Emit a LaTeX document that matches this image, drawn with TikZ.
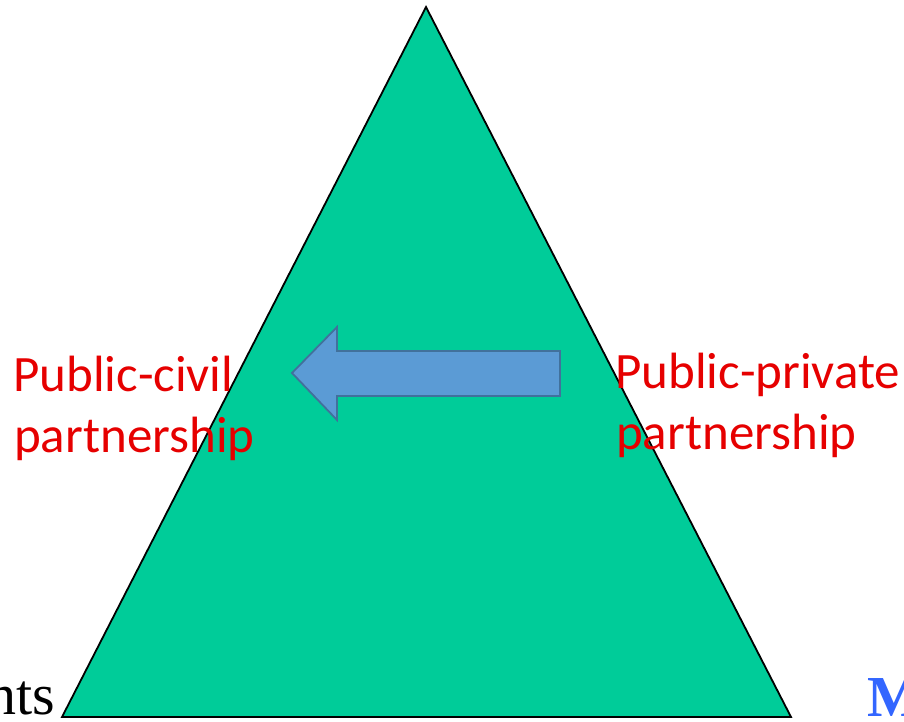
\documentclass[tikz,border=0pt]{standalone}
\usepackage{fontspec}
\setmainfont{Liberation Serif}
\newfontfamily\calfont{Carlito}
\usepackage{xcolor}
\usepackage{tikz}
\usetikzlibrary{calc,positioning}
\definecolor{trigreen}{RGB}{0,204,153}
\definecolor{arrowfill}{RGB}{91,155,213}
\definecolor{arrowline}{RGB}{65,113,156}
\definecolor{lblred}{RGB}{230,0,0}
\definecolor{sideblue}{RGB}{51,102,255}
\tikzset{
  tri/.style={draw=black, line width=1.8pt, fill=trigreen, line join=miter},
  bigarrow/.style={draw=arrowline, line width=1.8pt, fill=arrowfill},
  lbl/.style={text=lblred, inner sep=0pt, anchor=base west,
  font=\calfont\fontsize{51}{61}\selectfont},
  side/.style={inner sep=0pt, font=\fontsize{58}{60}\selectfont}
}
\begin{document}
\begin{tikzpicture}[x=1pt,y=-1pt]
			\useasboundingbox (0,0) rectangle (904,721);
			\coordinate (top) at (426,7);
			\coordinate (bl) at (62,717);
			\coordinate (br) at (791,717);
			\path[tri] (top) -- (bl) -- (br) -- cycle;
			\coordinate (tip) at (292,373);
			\coordinate (tail) at (560,373);
			\path[bigarrow] (tip) -- (337,327) -- (337,351) -- (tail |- 0,351) 
			-- (tail |- 0,396) -- (337,396) -- (337,420) -- cycle;
			\node (civA) [lbl] at (13,391) {Public-civil};
			\node (civB) [lbl] at (14,452) {partnership};
			\node (priA) [lbl] at (615,388) {Public-private};
			\node (priB) [lbl] at (616,449) {partnership};
			\node (left) [side,anchor=base east] at (55,714) {nts};
			\node (right) [side,anchor=base west,text=sideblue,font=\bfseries
			\fontsize{58}{60}\selectfont] at (867,716) {M};
\end{tikzpicture}
\end{document}
